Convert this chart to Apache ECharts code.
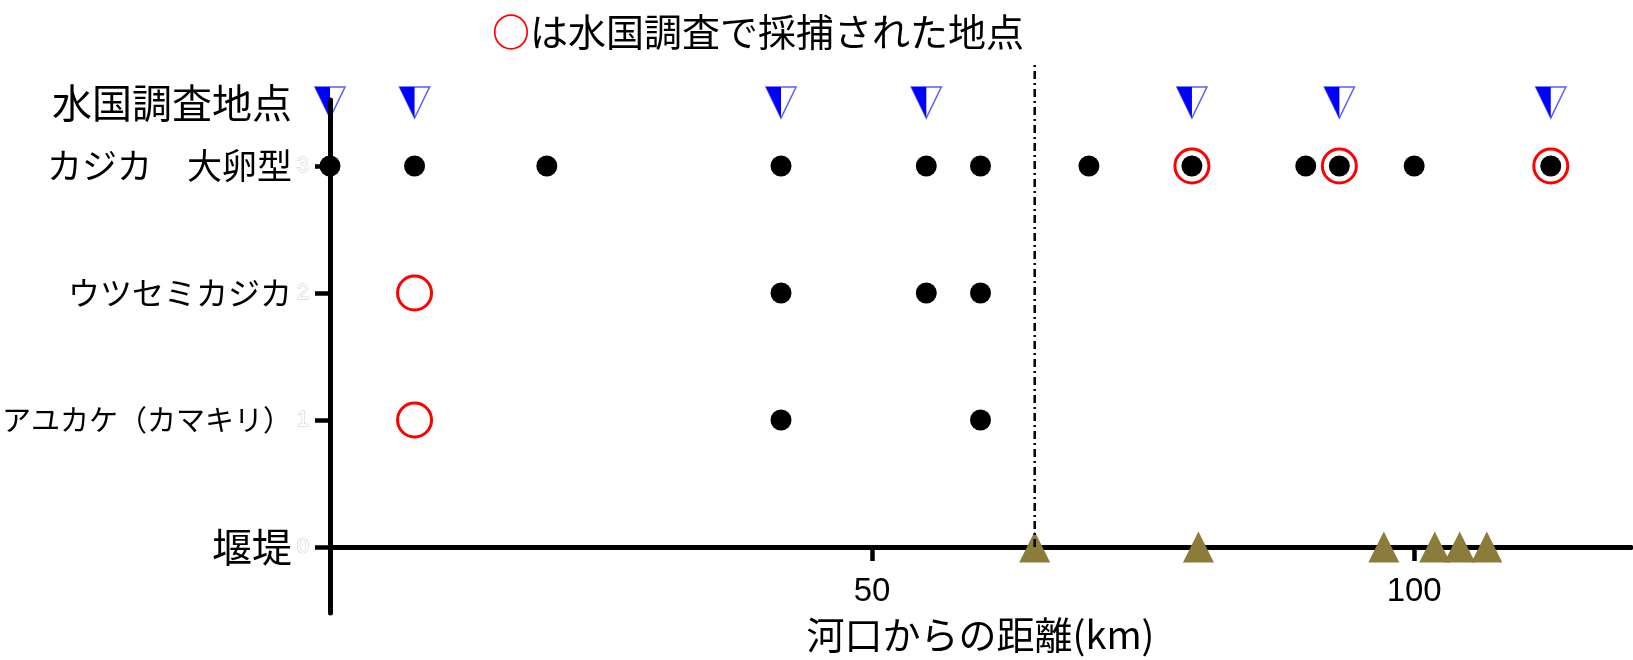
<!DOCTYPE html>
<html><head><meta charset="utf-8">
<script src="https://cdn.jsdelivr.net/npm/echarts@6/dist/echarts.min.js"></script>
<style>html,body{margin:0;padding:0;background:#fff}#c{width:1633px;height:660px}</style>
</head><body><div id="c"></div>
<script>
// ---- data (km from river mouth) ----
const rowValues = [0, 1, 2, 3, 3.5];
const rowNames = ['堰堤', 'アユカケ（カマキリ）', 'ウツセミカジカ', 'カジカ　大卵型', '水国調査地点'];
const yTickValues = [0, 1, 2, 3];
const xTickLabels = [50, 100];
const surveyKm = [0, 7.8, 41.6, 55.0, 79.5, 93.1, 112.6];
const kajikaKm = [0, 7.8, 20, 41.6, 55.0, 60, 70, 79.5, 90, 93.1, 100, 112.6];
const kajikaCaughtKm = [79.5, 93.1, 112.6];
const utsusemiKm = [41.6, 55.0, 60];
const utsusemiCaughtKm = [7.8];
const ayukakeKm = [41.6, 60];
const ayukakeCaughtKm = [7.8];
const weirKm = [65, 80.1, 97.2, 101.9, 104.2, 106.7];
const boundaryKm = 65;
const boundaryTop = 3.82;

const JP = '"Noto Sans CJK JP", sans-serif';
const rowStyleKeys = ['e', 'd', 'c', 'b', 'a'];

const pts = (arr, y) => arr.map(x => [x, y]);

const chart = echarts.init(document.getElementById('c'), null, {renderer: 'canvas'});
chart.setOption({
  animation: false,
  backgroundColor: '#fff',
  title: {
    text: '{r|○}{t|は水国調査で採捕された地点}',
    left: 487, top: 8,
    textStyle: {
      fontWeight: 'normal',
      rich: {
        r: {fontFamily: JP, fontSize: 38, color: '#ff0000', fontWeight: 'bold'},
        t: {fontFamily: JP, fontSize: 38, color: '#000', fontWeight: 'normal'}
      }
    }
  },
  grid: {left: 330, right: 2, top: 100, bottom: 47, containLabel: false, outerBoundsMode: 'none'},
  xAxis: {
    type: 'value', min: 0, max: 120,
    axisLine: {show: true, onZero: true, lineStyle: {color: '#000', width: 5}},
    axisTick: {show: true, length: 14, lineStyle: {color: '#000', width: 4.5}, customValues: xTickLabels},
    axisLabel: {customValues: xTickLabels, margin: -38, fontSize: 33, color: '#000', fontFamily: '"Liberation Sans", sans-serif'},
    splitLine: {show: false},
    name: '河口からの距離(km)', nameLocation: 'middle', nameGap: 3,
    nameTextStyle: {fontFamily: JP, fontSize: 38, color: '#000'}
  },
  yAxis: [{
    type: 'value', min: -0.52, max: 3.52, z: 10,
    axisLine: {show: true, onZero: false, lineStyle: {color: '#000', width: 5}},
    axisTick: {show: true, length: 15, lineStyle: {color: '#000', width: 4.5}, customValues: yTickValues},
    axisLabel: {customValues: yTickValues, margin: 21, fontSize: 22, color: '#ffffff',
      textBorderColor: '#c8c8c8', textBorderWidth: 1, fontFamily: '"Liberation Sans", sans-serif'},
    splitLine: {show: false}
  }, {
    type: 'value', min: -0.52, max: 3.52, position: 'left',
    axisLine: {show: false}, axisTick: {show: false}, splitLine: {show: false},
    axisLabel: {
      customValues: rowValues, margin: 38, color: '#000',
      formatter: v => {
        const i = rowValues.indexOf(v);
        return i < 0 ? '' : '{' + rowStyleKeys[i] + '|' + rowNames[i] + '}';
      },
      rich: {
        a: {fontFamily: JP, fontSize: 40, color: '#000'},
        b: {fontFamily: JP, fontSize: 35, color: '#000'},
        c: {fontFamily: JP, fontSize: 32, color: '#000'},
        d: {fontFamily: JP, fontSize: 29, color: '#000'},
        e: {fontFamily: JP, fontSize: 40, color: '#000'}
      }
    }
  }],
  series: [
    {
      name: 'boundary', type: 'line', clip: false, z: 6, symbol: 'none',
      data: [[boundaryKm, 0], [boundaryKm, boundaryTop]],
      lineStyle: {color: '#000', width: 2.5, type: [8, 4, 2, 4]}
    },
    {
      name: 'weir', type: 'scatter', z: 5, clip: false,
      symbol: 'triangle', symbolSize: [31, 31],
      itemStyle: {color: '#8b7c3b', opacity: 1},
      data: pts(weirKm, 0)
    },
    {
      name: 'survey-outline', type: 'scatter', z: 4, clip: false,
      symbol: 'path://M0,0 L30,0 L15,31 Z', symbolSize: [30, 31],
      itemStyle: {color: '#ffffff', borderColor: '#5a5aff', borderWidth: 1.5, opacity: 1},
      data: pts(surveyKm, 3.5)
    },
    {
      name: 'survey-fill', type: 'scatter', z: 5, clip: false,
      symbol: 'path://M0,0 L15,0 L15,31 Z', symbolSize: [15, 31], symbolOffset: [-7.5, 0],
      itemStyle: {color: '#0000ff', opacity: 1},
      data: pts(surveyKm, 3.5)
    },
    {
      name: 'fish', type: 'scatter', z: 4, clip: false,
      symbol: 'circle', symbolSize: 21,
      itemStyle: {color: '#000', opacity: 1},
      data: pts(kajikaKm, 3).concat(pts(utsusemiKm, 2), pts(ayukakeKm, 1))
    },
    {
      name: 'caught', type: 'scatter', z: 5, clip: false,
      symbol: 'circle', symbolSize: 34,
      itemStyle: {color: 'rgba(0,0,0,0)', borderColor: '#ff0000', borderWidth: 3, opacity: 1},
      data: pts(kajikaCaughtKm, 3).concat(pts(utsusemiCaughtKm, 2), pts(ayukakeCaughtKm, 1))
    }
  ]
});
</script></body></html>
